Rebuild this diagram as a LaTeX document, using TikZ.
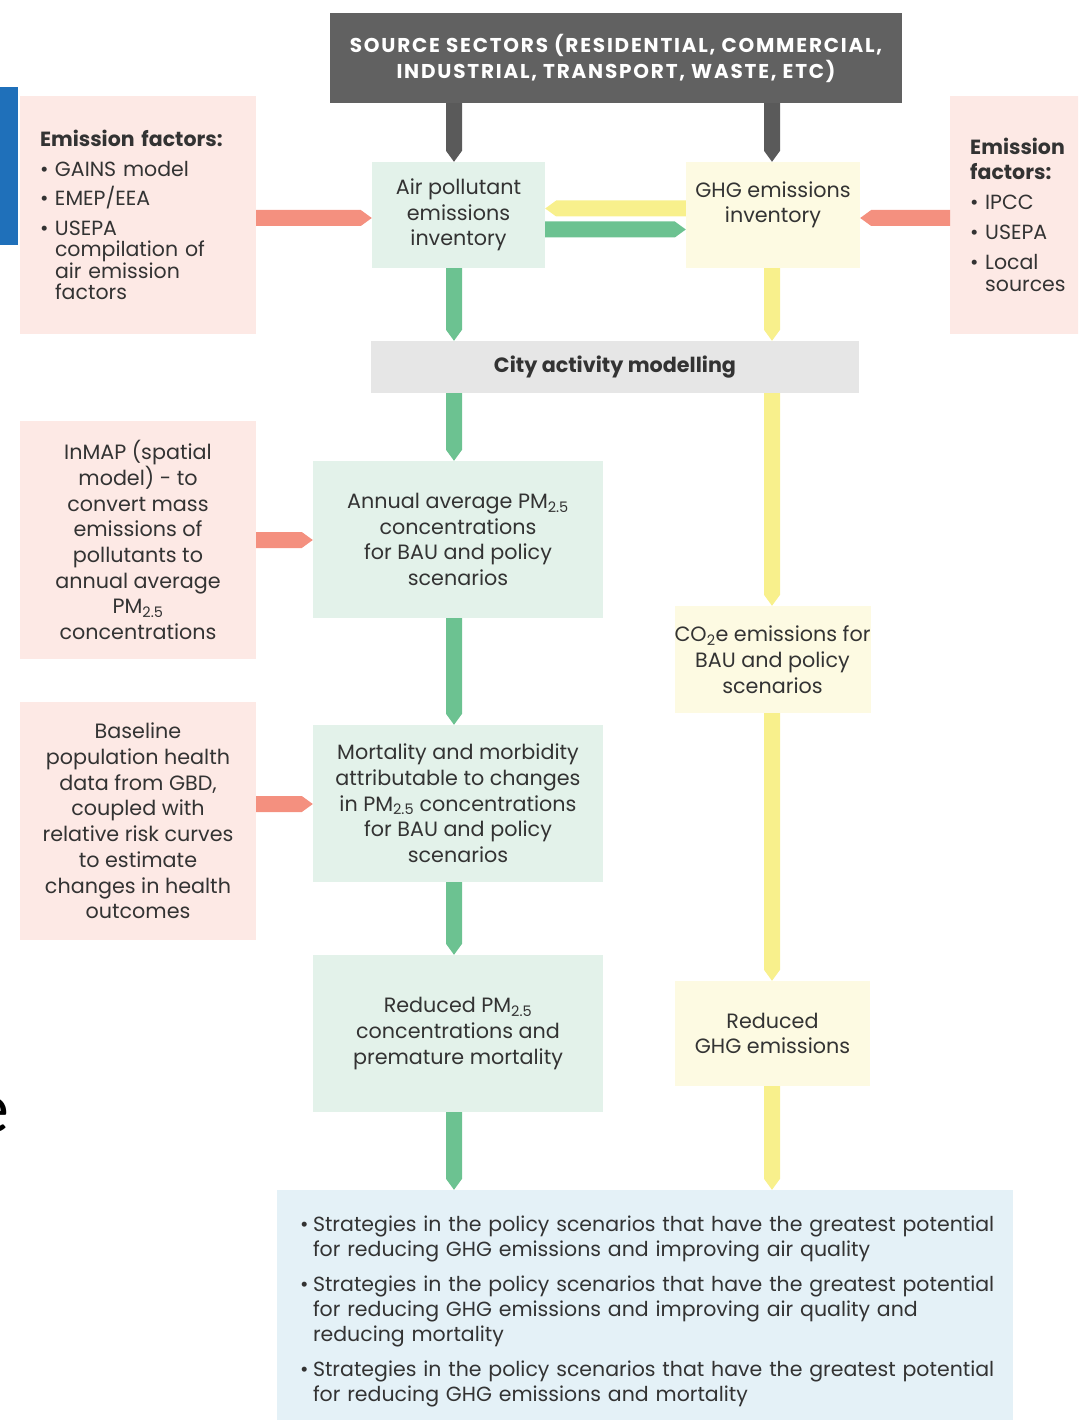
\documentclass[tikz,border=0pt]{standalone}
\usepackage{fontspec}
\setmainfont{Poppins}
\newfontfamily\fragfont{Carlito}
\usetikzlibrary{calc}
\definecolor{darkbox}{HTML}{616161}
\definecolor{darkarrow}{HTML}{5A5A5A}
\definecolor{txt}{HTML}{333333}
\definecolor{pinkbox}{HTML}{FDE9E5}
\definecolor{greenbox}{HTML}{E3F2EA}
\definecolor{yellowbox}{HTML}{FDFAE2}
\definecolor{graybox}{HTML}{E6E6E6}
\definecolor{bluebox}{HTML}{E4F1F7}
\definecolor{salmon}{HTML}{F4907F}
\definecolor{garrow}{HTML}{6CC291}
\definecolor{yarrow}{HTML}{F8F08C}
\definecolor{slideblue}{HTML}{1F70BA}
\newcommand\arrdown[3]{\fill[#3] ($(#1)+(-8,0)$) -- ($(#1)+(8,0)$) -- ($(#2)+(8,-11)$) -- (#2) -- ($(#2)+(-8,-11)$) -- cycle;}
\newcommand\arrright[3]{\fill[#3] ($(#1)+(0,-8)$) -- ($(#2)+(-11,-8)$) -- (#2) -- ($(#2)+(-11,8)$) -- ($(#1)+(0,8)$) -- cycle;}
\newcommand\arrleft[3]{\fill[#3] ($(#1)+(0,-8)$) -- ($(#2)+(11,-8)$) -- (#2) -- ($(#2)+(11,8)$) -- ($(#1)+(0,8)$) -- cycle;}
\newcommand\pmsub{PM\textsubscript{2.5}}
\newcommand\bulmark{\makebox[15pt][l]{\textbullet}}
\newcommand\bulind{\hspace*{15pt}}
\newcommand\bigbul{\makebox[13pt][l]{\textbullet}}
\newcommand\bigind{\hspace*{13pt}}
\newcommand\oline[1]{\mbox{#1}}
\begin{document}
\begin{tikzpicture}[x=1pt,y=-1pt,
  every node/.style={font=\fontsize{20.7}{25.7}\selectfont, text=txt, inner sep=0pt},
  box/.style={rectangle, align=center},
  pbox/.style={box, fill=pinkbox},
  gbox/.style={box, fill=greenbox},
  ybox/.style={box, fill=yellowbox},
]
\useasboundingbox (0,0) rectangle (1078,1420);
\begin{scope}
\clip (0,0) rectangle (1078,1420);
% slide remnants at left edge
\fill[slideblue] (0,87) rectangle (18,245);
\node[font=\fragfont\fontsize{72}{72}\selectfont, text=black, anchor=base east] (frag) at (10,1132) {e};

% boxes
\node[box, fill=darkbox, minimum width=572pt, minimum height=90pt, text=white,
      font=\bfseries\fontsize{20}{26}\selectfont\addfontfeature{LetterSpace=9}] (top) at (616,58)
      {SOURCE SECTORS (RESIDENTIAL, COMMERCIAL,\\INDUSTRIAL, TRANSPORT, WASTE, ETC)};
\node[gbox, minimum width=173pt, minimum height=106pt] (air) at (458.5,215) {Air pollutant\\emissions\\inventory};
\node[ybox, minimum width=174pt, minimum height=106pt] (ghg) at (773,215) {GHG emissions\\inventory\\\mbox{}};
\node[pbox, minimum width=236pt, minimum height=238pt, text width=196pt, align=left,
      font=\fontsize{20.5}{21.5}\selectfont] (ef1) at (138,215)
      {\textbf{Emission factors:}\\[8pt]
       \bulmark GAINS model\\[8pt]
       \bulmark EMEP/EEA\\[8pt]
       \bulmark USEPA\\
       \bulind compilation of\\
       \bulind air emission\\
       \bulind factors};
\node[pbox, anchor=west, minimum height=238pt, text width=110pt, inner xsep=20pt, align=left,
      font=\fontsize{20.5}{22}\selectfont] (ef2) at (950,215)
      {\textbf{Emission}\\[3pt]\textbf{factors:}\\[8pt]
       \bulmark IPCC\\[8pt]
       \bulmark USEPA\\[8pt]
       \bulmark Local\\
       \bulind sources};
\node[box, fill=graybox, minimum width=488pt, minimum height=52pt, font=\bfseries\fontsize{20.7}{25.7}\selectfont] (city) at (615,367) {City activity modelling};
\node[gbox, minimum width=290pt, minimum height=157pt] (annual) at (458,539.5)
      {Annual average \pmsub\\concentrations\\for BAU and policy\\scenarios};
\node[pbox, minimum width=236pt, minimum height=238pt] (inmap) at (138,540)
      {InMAP (spatial\\model) - to\\convert mass\\emissions of\\pollutants to\\annual average\\\pmsub\\concentrations};
\node[ybox, minimum width=195pt, minimum height=107pt] (co2) at (772.5,659.5)
      {CO\textsubscript{2}e emissions for\\BAU and policy\\scenarios};
\node[gbox, minimum width=290pt, minimum height=157pt] (mort) at (458,803.5)
      {Mortality and morbidity\\attributable to changes\\in \pmsub{} concentrations\\for BAU and policy\\scenarios};
\node[pbox, minimum width=236pt, minimum height=238pt] (base) at (138,821)
      {Baseline\\population health\\data from GBD,\\coupled with\\relative risk curves\\to estimate\\changes in health\\outcomes};
\node[gbox, minimum width=290pt, minimum height=157pt] (redpm) at (458,1033.5)
      {Reduced \pmsub\\concentrations and\\premature mortality};
\node[ybox, minimum width=195pt, minimum height=105pt] (redghg) at (772.5,1033.5)
      {Reduced\\GHG emissions};
\node[box, fill=bluebox, minimum width=736pt, minimum height=243pt, text width=690pt, align=left,
      font=\fontsize{20.5}{25.3}\selectfont] (out) at (645,1311.5)
      {\oline{\bigbul Strategies in the policy scenarios that have the greatest potential}\\
       \oline{\bigind for reducing GHG emissions and improving air quality}\\[9.5pt]
       \oline{\bigbul Strategies in the policy scenarios that have the greatest potential}\\
       \oline{\bigind for reducing GHG emissions and improving air quality and}\\
       \oline{\bigind reducing mortality}\\[9.5pt]
       \oline{\bigbul Strategies in the policy scenarios that have the greatest potential}\\
       \oline{\bigind for reducing GHG emissions and mortality}};
\end{scope}

% column coordinates
\coordinate (gx) at (454,0);
\coordinate (yx) at (772,0);
\coordinate (r1) at (0,218);
\coordinate (rg) at (0,229.5);
\coordinate (ry) at (0,208.5);
\coordinate (r3) at (0,540);
\coordinate (r4) at (0,804);

% connectors
\arrdown{top.south -| gx}{air.north -| gx}{darkarrow}
\arrdown{top.south -| yx}{ghg.north -| yx}{darkarrow}
\arrright{ef1.east |- r1}{air.west |- r1}{salmon}
\arrleft{ef2.west |- r1}{ghg.east |- r1}{salmon}
\arrleft{ghg.west |- ry}{air.east |- ry}{yarrow}
\arrright{air.east |- rg}{ghg.west |- rg}{garrow}
\arrdown{air.south -| gx}{city.north -| gx}{garrow}
\arrdown{ghg.south -| yx}{city.north -| yx}{yarrow}
\arrdown{city.south -| gx}{annual.north -| gx}{garrow}
\arrdown{city.south -| yx}{co2.north -| yx}{yarrow}
\arrright{inmap.east |- r3}{annual.west |- r3}{salmon}
\arrdown{annual.south -| gx}{mort.north -| gx}{garrow}
\arrright{base.east |- r4}{mort.west |- r4}{salmon}
\arrdown{co2.south -| yx}{redghg.north -| yx}{yarrow}
\arrdown{mort.south -| gx}{redpm.north -| gx}{garrow}
\arrdown{redpm.south -| gx}{out.north -| gx}{garrow}
\arrdown{redghg.south -| yx}{out.north -| yx}{yarrow}
\end{tikzpicture}
\end{document}
